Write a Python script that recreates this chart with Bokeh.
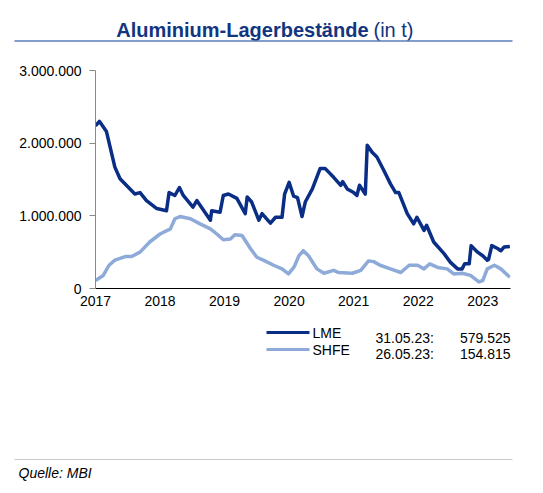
from bokeh.plotting import figure
from bokeh.layouts import column
from bokeh.models import FixedTicker, Range1d
from bokeh.core.properties import value
from bokeh.embed import file_html
from bokeh.resources import INLINE

FONT = "Liberation Sans"
NAVY = "#0a2e86"
LIGHT = "#8eaad8"
TITLE_C = "#12357f"

# LME stocks (t)
lme_year = [2017.00, 2017.06, 2017.17, 2017.30, 2017.38, 2017.61, 2017.69, 2017.79, 2017.95,
            2018.10, 2018.14, 2018.23, 2018.30, 2018.36, 2018.51, 2018.57, 2018.78, 2018.80,
            2018.93, 2018.98, 2019.06, 2019.19, 2019.32, 2019.35, 2019.42, 2019.53, 2019.58,
            2019.71, 2019.79, 2019.89, 2019.93, 2020.00, 2020.07, 2020.13, 2020.20, 2020.25,
            2020.36, 2020.48, 2020.56, 2020.69, 2020.80, 2020.83, 2020.90, 2021.00, 2021.05,
            2021.09, 2021.18, 2021.21, 2021.29, 2021.36, 2021.47, 2021.57, 2021.65, 2021.70,
            2021.83, 2021.93, 2021.98, 2022.09, 2022.13, 2022.24, 2022.40, 2022.50, 2022.61,
            2022.68, 2022.72, 2022.79, 2022.82, 2022.92, 2023.00, 2023.07, 2023.09, 2023.14,
            2023.23, 2023.28, 2023.33, 2023.42]
lme_t = [2240000, 2300000, 2160000, 1670000, 1510000, 1300000, 1320000, 1210000, 1100000,
         1070000, 1320000, 1280000, 1390000, 1280000, 1120000, 1210000, 940000, 1070000,
         1050000, 1280000, 1300000, 1240000, 1030000, 1260000, 1190000, 940000, 1030000,
         900000, 980000, 980000, 1300000, 1460000, 1270000, 1250000, 990000, 1190000,
         1370000, 1650000, 1650000, 1530000, 1420000, 1470000, 1370000, 1320000, 1280000,
         1420000, 1300000, 1970000, 1870000, 1810000, 1620000, 1440000, 1320000, 1320000,
         1030000, 890000, 980000, 800000, 870000, 640000, 480000, 360000, 270000,
         270000, 340000, 340000, 590000, 500000, 450000, 390000, 400000, 590000,
         550000, 520000, 570000, 579525]

# SHFE stocks (t)
shfe_year = [2017.00, 2017.12, 2017.21, 2017.30, 2017.46, 2017.56, 2017.69, 2017.84, 2018.00,
             2018.16, 2018.23, 2018.31, 2018.47, 2018.62, 2018.78, 2018.88, 2018.98, 2019.09,
             2019.16, 2019.27, 2019.40, 2019.50, 2019.60, 2019.76, 2019.89, 2019.99, 2020.08,
             2020.15, 2020.22, 2020.30, 2020.43, 2020.54, 2020.69, 2020.77, 2020.98, 2021.11,
             2021.23, 2021.31, 2021.41, 2021.57, 2021.73, 2021.86, 2021.99, 2022.09, 2022.18,
             2022.30, 2022.45, 2022.55, 2022.68, 2022.81, 2022.94, 2023.00, 2023.07, 2023.18,
             2023.28, 2023.42]
shfe_t = [110000, 180000, 320000, 390000, 440000, 440000, 500000, 640000, 750000,
          820000, 960000, 990000, 960000, 890000, 820000, 750000, 670000, 680000,
          740000, 730000, 550000, 430000, 390000, 320000, 270000, 200000, 300000,
          450000, 520000, 450000, 270000, 210000, 250000, 220000, 210000, 250000,
          380000, 370000, 320000, 270000, 220000, 320000, 320000, 270000, 340000,
          290000, 270000, 200000, 210000, 180000, 90000, 110000, 270000, 320000,
          270000, 154815]

year_ticks = [2017, 2018, 2019, 2020, 2021, 2022, 2023]
y_ticks = [0, 1000000, 2000000, 3000000]
y_labels = ["0", "1.000.000", "2.000.000", "3.000.000"]

title_bold = "Aluminium-Lagerbestände"
title_unit = "(in t)"
legend_names = ["LME", "SHFE"]
legend_dates = ["31.05.23:", "26.05.23:"]
legend_values = ["579.525", "154.815"]
source_note = "Quelle: MBI"

W = 543


def strip(top, bottom):
    # a bare figure whose data units are page pixels
    s = figure(width=W, height=bottom - top, x_range=Range1d(0, W), y_range=Range1d(bottom, top),
               x_axis_type=None, y_axis_type=None, min_border=0, frame_align=False,
               output_backend="svg", toolbar_location=None)
    s.outline_line_color = None
    return s


def txt(s, xs, ys, texts, size="14px", style="normal", color="black", align="left", baseline="middle"):
    s.text(x=xs, y=ys, text=texts, text_font=value(FONT), text_font_size=size,
           text_font_style=style, text_color=color, text_align=align, text_baseline=baseline)


# --- title strip ---
head = strip(0, 50)
txt(head, [368], [29], [title_bold], size="20px", style="bold", color=TITLE_C, align="right")
txt(head, [373], [29], [title_unit], size="20px", color=TITLE_C)
head.segment(x0=[14], y0=[40.5], x1=[512], y1=[40.5], line_color="#5a7dbd", line_width=1.5)

# --- chart ---
p = figure(width=W, height=268, x_range=Range1d(2017, 2023.43), y_range=Range1d(0, 3000000),
           min_border_left=95, min_border_right=33, min_border_top=20, min_border_bottom=30,
           frame_align=False, output_backend="svg", toolbar_location=None)
p.outline_line_color = None
p.grid.visible = False

p.line(shfe_year, shfe_t, line_color=LIGHT, line_width=3.5, line_join="round")
p.line(lme_year, lme_t, line_color=NAVY, line_width=3.5, line_join="round")

p.xaxis.ticker = FixedTicker(ticks=year_ticks)
p.xaxis.major_label_overrides = {y: str(y) for y in year_ticks}
p.xaxis.minor_tick_line_color = None
p.xaxis.major_tick_out = 0
p.xaxis.major_tick_in = 0
p.xaxis.major_label_standoff = 7
p.xaxis.axis_line_color = "black"

p.yaxis.ticker = FixedTicker(ticks=y_ticks)
p.yaxis.major_label_overrides = dict(zip(y_ticks, y_labels))
p.yaxis.minor_tick_line_color = None
p.yaxis.major_tick_out = 6
p.yaxis.major_tick_in = 0
p.yaxis.major_label_standoff = 8
p.yaxis.axis_line_color = "#8a8a8a"
p.yaxis.major_tick_line_color = "#8a8a8a"

for ax in (p.xaxis, p.yaxis):
    ax.major_label_text_font = FONT
    ax.major_label_text_font_size = "14px"
    ax.major_label_text_color = "black"

# --- legend / footer strip ---
foot = strip(318, 493)
foot.segment(x0=[266], y0=[332], x1=[309], y1=[332], line_color=NAVY, line_width=3)
foot.segment(x0=[266], y0=[349], x1=[309], y1=[349], line_color=LIGHT, line_width=3)
txt(foot, [312, 312], [332, 349], legend_names)
txt(foot, [375, 375], [337, 353], legend_dates)
txt(foot, [510, 510], [337, 353], legend_values, align="right")
foot.segment(x0=[14], y0=[459], x1=[512], y1=[459], line_color="#c8c8c8", line_width=1)
txt(foot, [18], [472], [source_note], style="italic")

layout = column(head, p, foot, spacing=0)
open("out.html", "w").write(file_html(layout, INLINE))
